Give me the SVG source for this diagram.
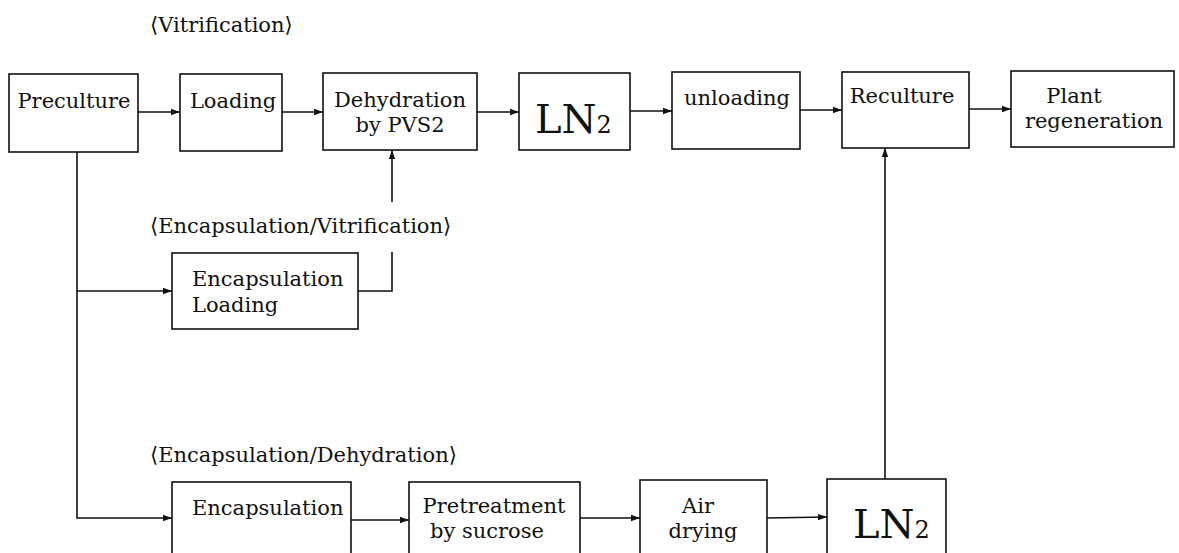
<svg xmlns="http://www.w3.org/2000/svg" width="1179" height="553" viewBox="0 0 1179 553">
<style>
.box{fill:#fff;stroke:#111;stroke-width:1.6}
.t{font-family:"DejaVu Serif","Liberation Serif",serif;font-size:21px;fill:#111}
.c{text-anchor:middle}
.big{font-family:"DejaVu Serif","Liberation Serif",serif;font-size:40px;fill:#111}
.sub{font-size:24px}
.ln{fill:none;stroke:#111;stroke-width:1.6}
</style>
<defs>
<marker id="ar" markerWidth="10" markerHeight="8" refX="9" refY="4" orient="auto" markerUnits="userSpaceOnUse">
<path d="M0,0.8 L9,4 L0,7.2 z" fill="#111"/>
</marker>
</defs>
<rect width="1179" height="553" fill="#fff"/>
<text class="t" x="150" y="32">⟨Vitrification⟩</text>
<text class="t" x="150" y="233">⟨Encapsulation/Vitrification⟩</text>
<text class="t" x="150" y="462">⟨Encapsulation/Dehydration⟩</text>

<g id="preculture"><rect class="box" x="9" y="74" width="129" height="78"/><text class="t c" x="74" y="108">Preculture</text></g>
<g id="loading"><rect class="box" x="180" y="74" width="102" height="77"/><text class="t c" x="233" y="108">Loading</text></g>
<g id="dehydration"><rect class="box" x="323" y="73" width="154" height="77"/><text class="t c" x="400" y="107">Dehydration</text><text class="t c" x="400" y="132">by PVS2</text></g>
<g id="ln2top"><rect class="box" x="519" y="73" width="111" height="77"/><text class="big" x="535" y="133">LN<tspan class="sub">2</tspan></text></g>
<g id="unloading"><rect class="box" x="672" y="72" width="128" height="77"/><text class="t c" x="737" y="105">unloading</text></g>
<g id="reculture"><rect class="box" x="842" y="72" width="127" height="76"/><text class="t c" x="902" y="103">Reculture</text></g>
<g id="plant"><rect class="box" x="1011" y="71" width="163" height="76"/><text class="t c" x="1074" y="103">Plant</text><text class="t c" x="1094" y="128">regeneration</text></g>
<g id="encloading"><rect class="box" x="172" y="253" width="186" height="76"/><text class="t" x="192" y="286">Encapsulation</text><text class="t" x="192" y="312">Loading</text></g>
<g id="encapsulation"><rect class="box" x="172" y="482" width="179" height="80"/><text class="t" x="192" y="515">Encapsulation</text></g>
<g id="pretreatment"><rect class="box" x="409" y="482" width="171" height="80"/><text class="t c" x="494" y="513">Pretreatment</text><text class="t c" x="487" y="538">by sucrose</text></g>
<g id="airdrying"><rect class="box" x="640" y="480" width="127" height="82"/><text class="t c" x="698" y="513">Air</text><text class="t c" x="703" y="538">drying</text></g>
<g id="ln2bottom"><rect class="box" x="827" y="479" width="119" height="83"/><text class="big" x="853" y="538">LN<tspan class="sub">2</tspan></text></g>

<g id="connectors">
<line class="ln" x1="138" y1="112" x2="180" y2="112" marker-end="url(#ar)"/>
<line class="ln" x1="282" y1="112" x2="323" y2="112" marker-end="url(#ar)"/>
<line class="ln" x1="477" y1="112" x2="519" y2="112" marker-end="url(#ar)"/>
<line class="ln" x1="630" y1="111" x2="672" y2="111" marker-end="url(#ar)"/>
<line class="ln" x1="800" y1="110" x2="842" y2="110" marker-end="url(#ar)"/>
<line class="ln" x1="969" y1="109" x2="1011" y2="109" marker-end="url(#ar)"/>
<polyline class="ln" points="77,152 77,518 172,518" marker-end="url(#ar)"/>
<line class="ln" x1="77" y1="291" x2="172" y2="291" marker-end="url(#ar)"/>
<polyline class="ln" points="358,291 392,291 392,252"/>
<line class="ln" x1="392" y1="202" x2="392" y2="150" marker-end="url(#ar)"/>
<line class="ln" x1="351" y1="520" x2="409" y2="520" marker-end="url(#ar)"/>
<line class="ln" x1="580" y1="518" x2="640" y2="518" marker-end="url(#ar)"/>
<line class="ln" x1="767" y1="518" x2="827" y2="517" marker-end="url(#ar)"/>
<line class="ln" x1="885" y1="479" x2="885" y2="148" marker-end="url(#ar)"/>
</g>
</svg>
